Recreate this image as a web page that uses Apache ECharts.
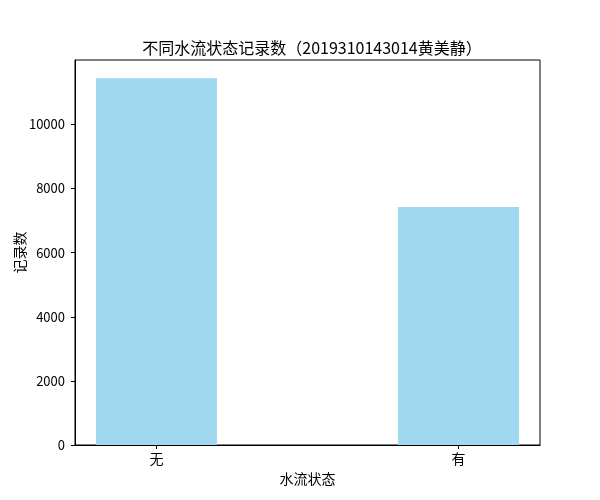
<!DOCTYPE html>
<html><head><meta charset="utf-8">
<script src="https://cdn.jsdelivr.net/npm/echarts@6/dist/echarts.min.js"></script>
<style>html,body{margin:0;padding:0;background:#fff}#c{width:600px;height:500px}</style>
</head><body><div id="c"></div>
<script>
const categories = ['无', '有'];
const counts = [11443, 7421];
const yTicks = [0, 2000, 4000, 6000, 8000, 10000];
const titleText = '不同水流状态记录数（2019310143014黄美静）';

const FONT = '"Noto Sans CJK SC", "DejaVu Sans", sans-serif';
const chart = echarts.init(document.getElementById('c'), null, {renderer: 'canvas'});
chart.setOption({
  animation: false,
  title: {
    text: titleText, left: 307, top: 35, textAlign: 'center',
    textStyle: {fontFamily: FONT, fontSize: 16, fontWeight: 'normal', color: '#000'}
  },
  grid: {left: 75, right: 60, top: 60, bottom: 55, containLabel: false, outerBoundsMode: 'none',
    show: true, borderColor: '#000', borderWidth: 1, backgroundColor: 'transparent'},
  xAxis: {
    type: 'value', min: -0.27, max: 1.27,
    name: '水流状态', nameLocation: 'middle', nameGap: 27, nameMoveOverlap: false,
    nameTextStyle: {fontFamily: FONT, fontSize: 14, color: '#000'},
    axisLine: {show: true, onZero: false, lineStyle: {color: '#000', width: 1}},
    axisTick: {show: true, length: 4, lineStyle: {color: '#000'}, customValues: [0, 1]},
    axisLabel: {show: true, margin: 7, customValues: [0, 1], fontFamily: FONT, fontSize: 14, color: '#000',
      formatter: v => categories[Math.round(v)]},
    splitLine: {show: false}
  },
  yAxis: {
    type: 'value', min: 0, max: 12010,
    name: '记录数', nameLocation: 'middle', nameGap: 48, nameMoveOverlap: false,
    nameTextStyle: {fontFamily: FONT, fontSize: 14, color: '#000'},
    axisLine: {show: true, onZero: false, lineStyle: {color: '#000', width: 1}},
    axisTick: {show: true, length: 4, lineStyle: {color: '#000'}, customValues: yTicks},
    axisLabel: {show: true, margin: 10, customValues: yTicks, fontFamily: FONT, fontSize: 13, color: '#000',
      formatter: v => String(v)},
    splitLine: {show: false}
  },
  series: [{
    type: 'bar', barWidth: 121,
    itemStyle: {color: '#9fd8ef'},
    data: counts.map((v, i) => [i, v])
  }]
});
</script></body></html>
